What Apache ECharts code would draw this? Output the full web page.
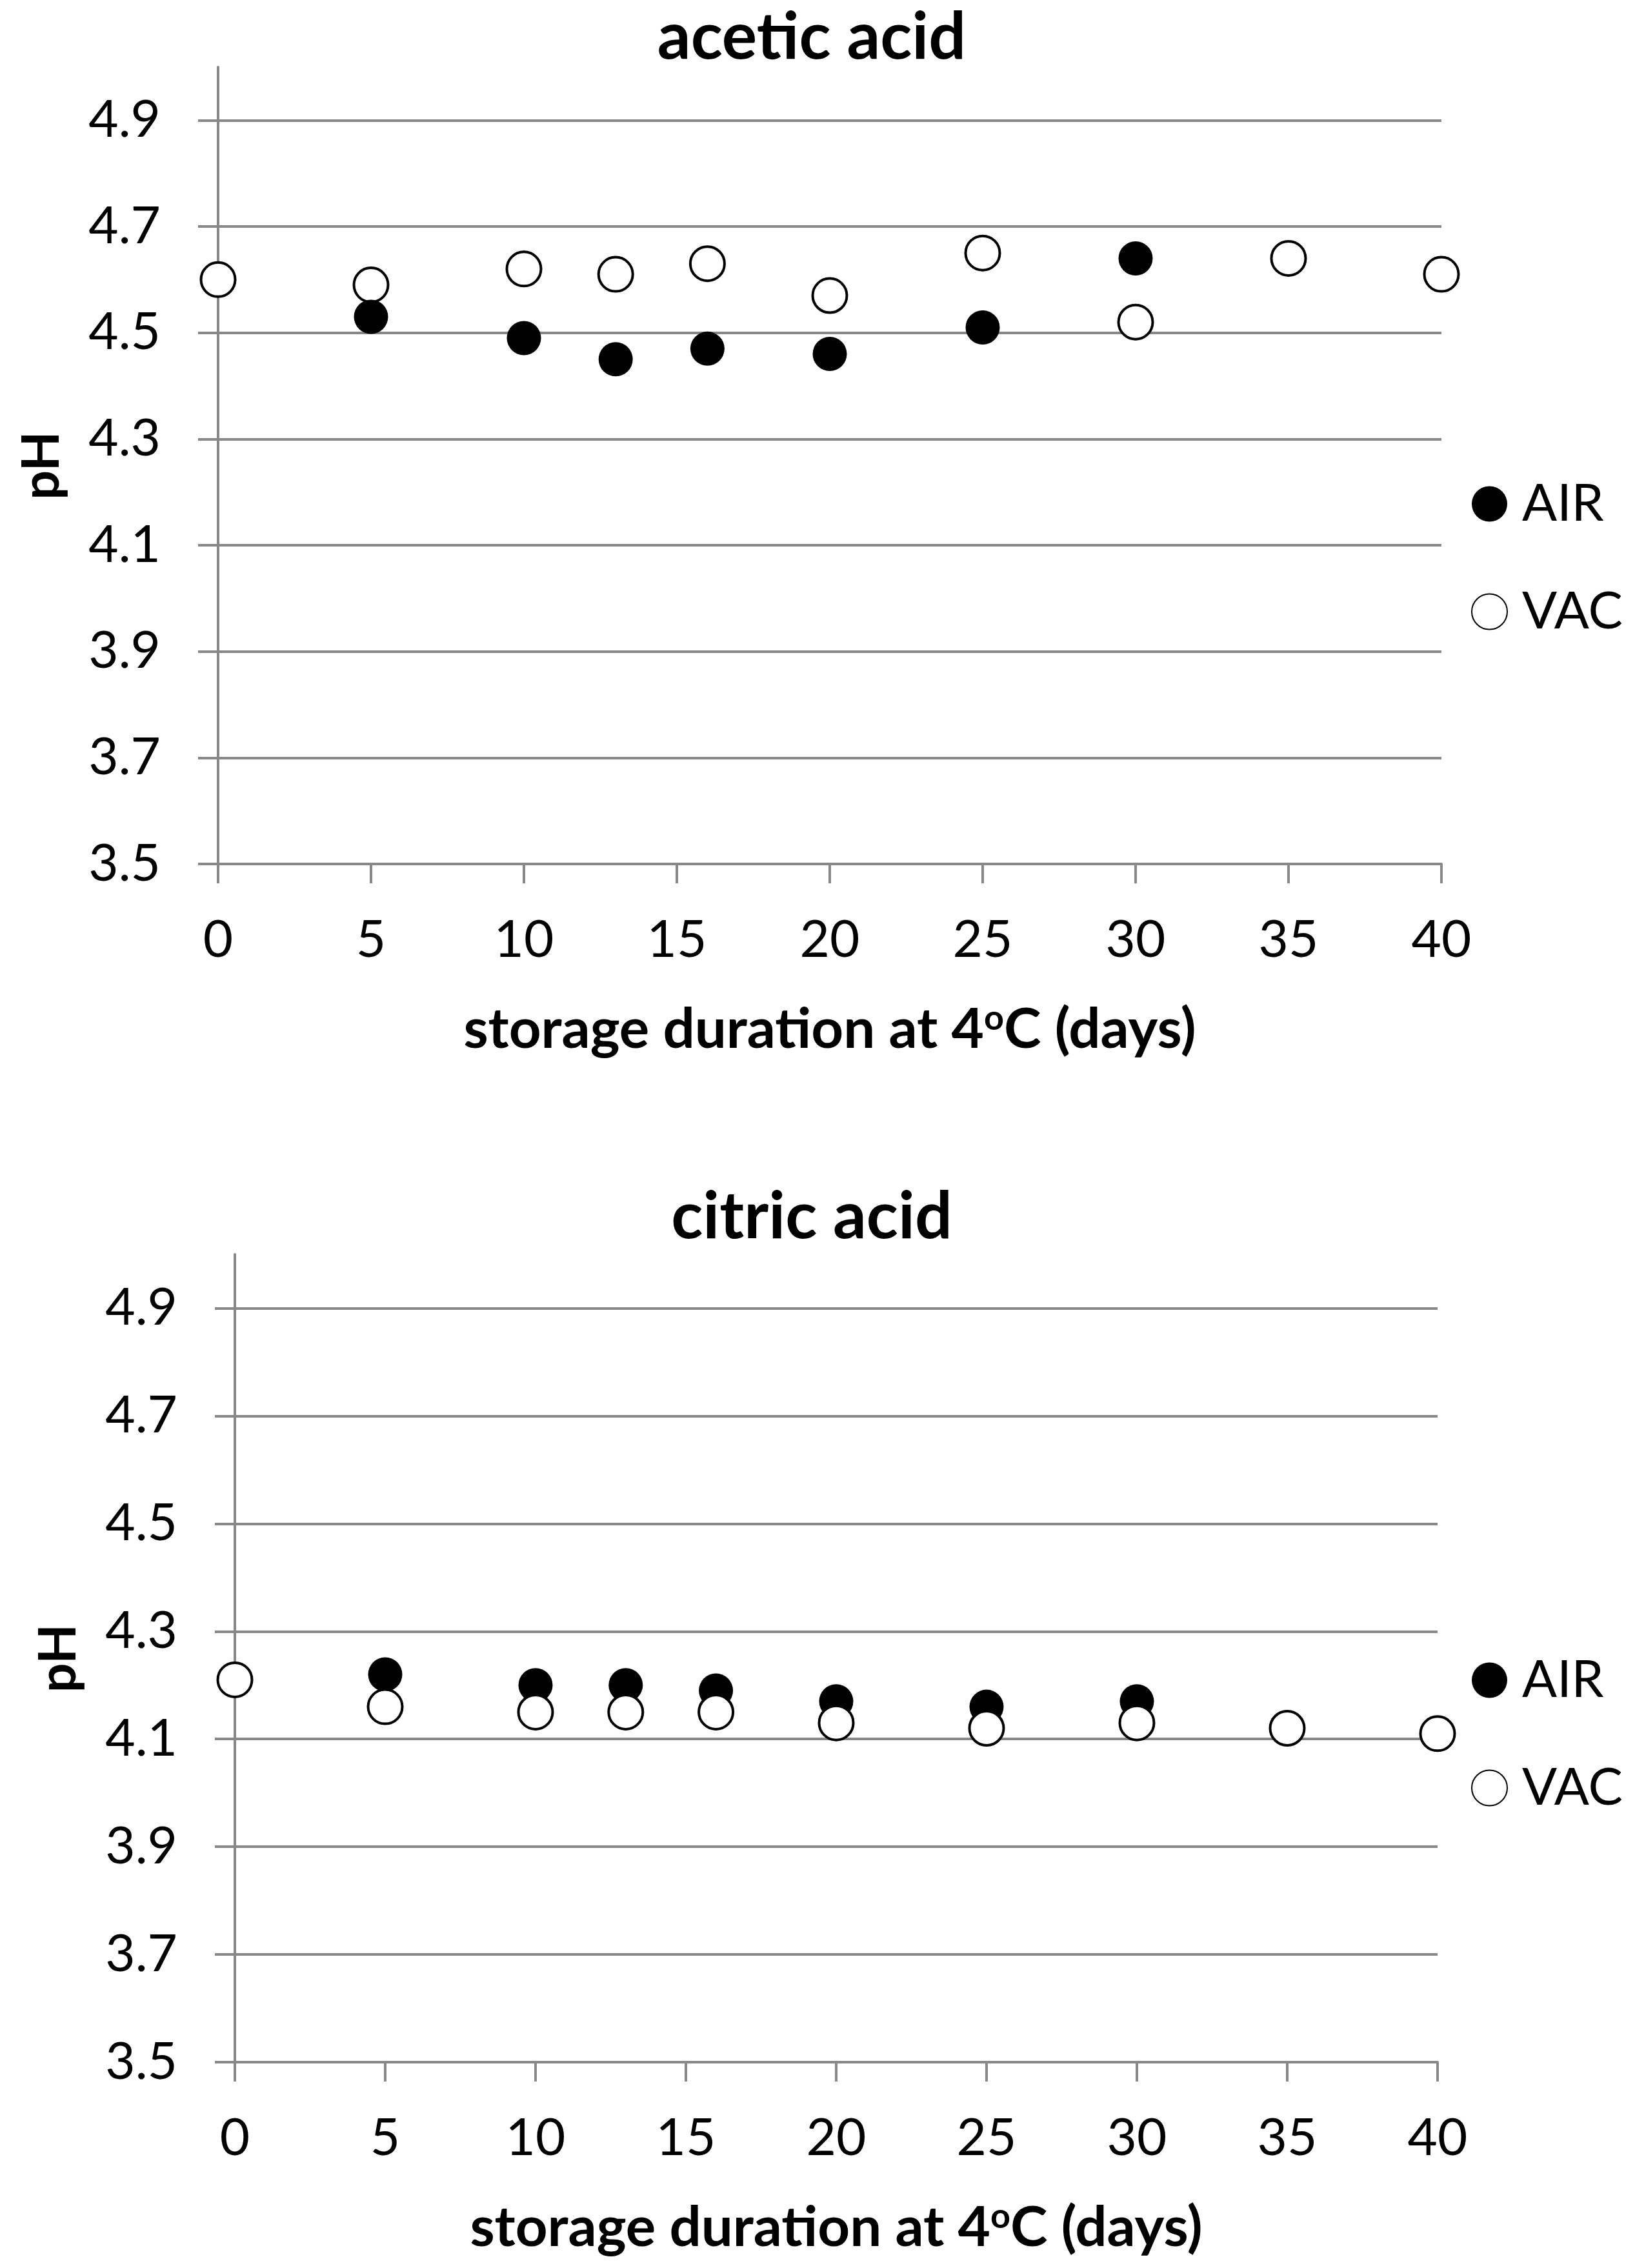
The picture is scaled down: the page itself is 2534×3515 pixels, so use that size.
<!DOCTYPE html>
<html><head><meta charset="utf-8">
<script src="https://cdn.jsdelivr.net/npm/echarts@6/dist/echarts.min.js"></script>
<style>html,body{margin:0;padding:0;background:#fff}#c{width:2534px;height:3515px}</style>
</head><body><div id="c"></div>
<script>
// ---- data ----
const days = [0, 5, 10, 13, 16, 20, 25, 30, 35, 40];
const aceticAir = [null, 4.53, 4.49, 4.45, 4.47, 4.46, 4.51, 4.64, null, null];
const aceticVac = [4.60, 4.59, 4.62, 4.61, 4.63, 4.57, 4.65, 4.52, 4.64, 4.61];
const citricAir = [null, 4.22, 4.20, 4.20, 4.19, 4.17, 4.16, 4.17, null, null];
const citricVac = [4.21, 4.16, 4.15, 4.15, 4.15, 4.13, 4.12, 4.13, 4.12, 4.11];
const yTicks = [3.5, 3.7, 3.9, 4.1, 4.3, 4.5, 4.7, 4.9];
const xTicks = [0, 5, 10, 15, 20, 25, 30, 35, 40];
const chartTitles = ['acetic acid', 'citric acid'];
const seriesNames = ['AIR', 'VAC'];
const xName = 'storage duration at 4{sup|o}C (days)';
const yName = 'pH';

// ---- style ----
const FONT = 'Lato';
const GRAY = '#888888';
const pairs = arr => days.map((d, i) => [d, arr[i]]).filter(p => p[1] != null);

const grids = [
  { left: 338, top: 104, width: 1896, height: 1235 },
  { left: 364, top: 1944, width: 1864, height: 1252 }
];

function xAxis(gi) {
  return {
    type: 'value', gridIndex: gi, min: xTicks[0], max: xTicks[xTicks.length - 1], interval: xTicks[1] - xTicks[0],
    axisLine: { show: true, onZero: false, lineStyle: { color: GRAY, width: 4 } },
    axisTick: { show: true, length: 30, lineStyle: { color: GRAY, width: 4 } },
    axisLabel: { margin: 78, fontSize: 80, color: '#000', fontFamily: FONT },
    splitLine: { show: false },
    name: xName, nameLocation: 'middle', nameGap: 213,
    nameTextStyle: {
      fontSize: 87, fontWeight: 'bold', color: '#000', fontFamily: FONT,
      rich: { sup: { fontSize: 54, fontWeight: 'bold', color: '#000', fontFamily: FONT, verticalAlign: 'top', lineHeight: 54 } }
    }
  };
}
function yAxis(gi) {
  return {
    type: 'value', gridIndex: gi, min: 3.5, max: 5.0,
    axisLine: { show: true, onZero: false, lineStyle: { color: GRAY, width: 4 } },
    axisTick: { show: true, length: 31, customValues: yTicks, lineStyle: { color: GRAY, width: 4 } },
    axisLabel: { customValues: yTicks, margin: 89, fontSize: 80, color: '#000', fontFamily: FONT, formatter: v => v.toFixed(1) },
    splitLine: { show: true, lineStyle: { color: GRAY, width: 4 } },
    name: yName, nameLocation: 'middle', nameGap: 233, nameRotate: 90,
    nameTextStyle: { fontSize: 80, fontWeight: 'bold', color: '#000', fontFamily: FONT }
  };
}
const airStyle = { color: '#000', borderColor: '#000', borderWidth: 0, opacity: 1 };
const vacStyle = { color: '#fff', borderColor: '#000', borderWidth: 4, opacity: 1 };
function sc(name, data, gi, style, z) {
  return { type: 'scatter', name, xAxisIndex: gi, yAxisIndex: gi, data: pairs(data),
    symbol: 'circle', symbolSize: 53, itemStyle: style, z, emphasis: { disabled: true }, clip: false };
}
function legend(top) {
  return { data: seriesNames, orient: 'vertical', left: 2280, top, icon: 'circle',
    itemWidth: 55, itemHeight: 55, itemGap: 87, padding: 0,
    itemStyle: { opacity: 1 },
    textStyle: { fontSize: 80, lineHeight: 80, color: '#000', fontFamily: FONT, padding: [0, 0, 0, 18] } };
}

const chart = echarts.init(document.getElementById('c'), null, { renderer: 'canvas' });
chart.setOption({
  backgroundColor: '#fff',
  animation: false,
  title: [
    { text: chartTitles[0], left: 1258, top: 3, textAlign: 'center', padding: 0,
      textStyle: { fontSize: 102, lineHeight: 110, fontWeight: 'bold', color: '#000', fontFamily: FONT } },
    { text: chartTitles[1], left: 1258, top: 1831, textAlign: 'center', padding: 0,
      textStyle: { fontSize: 102, lineHeight: 110, fontWeight: 'bold', color: '#000', fontFamily: FONT } }
  ],
  legend: [legend(741), legend(2564)],
  grid: grids,
  xAxis: [xAxis(0), xAxis(1)],
  yAxis: [yAxis(0), yAxis(1)],
  series: [
    sc(seriesNames[1], aceticVac, 0, vacStyle, 2),
    sc(seriesNames[0], aceticAir, 0, airStyle, 3),
    sc(seriesNames[0], citricAir, 1, airStyle, 2),
    sc(seriesNames[1], citricVac, 1, vacStyle, 3)
  ]
});
</script></body></html>
